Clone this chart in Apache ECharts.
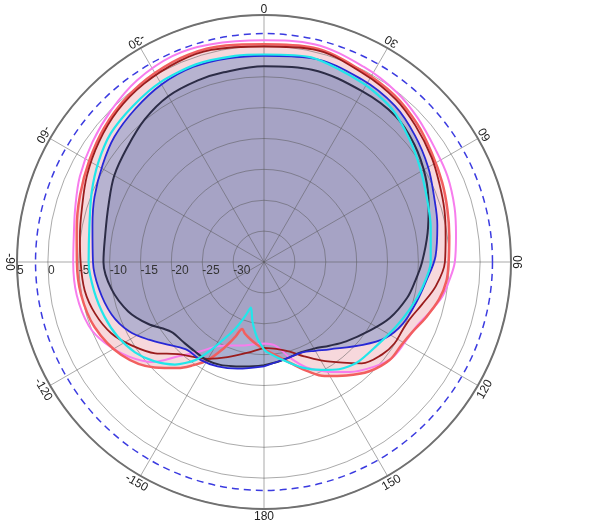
<!DOCTYPE html>
<html><head><meta charset="utf-8">
<script src="https://cdn.jsdelivr.net/npm/echarts@6/dist/echarts.min.js"></script>
<style>html,body{margin:0;padding:0;background:#fff}#c{width:600px;height:525px}</style>
</head><body><div id="c"></div>
<script>
// angle tick labels (degrees, clockwise from top)
const angleTickLabels = [0, 30, 60, 90, 120, 150, 180, -150, -120, -90, -60, -30];
// radial scale (dB)
const radiusMin = -35, radiusMax = 5, radiusStep = 5;
// reference circle (dB)
const refCircleDb = 2;

// curves: [angle (deg), gain (dB)]
const magenta = [[-180,-21.8],[-172,-21.5],[-165,-21.0],[-160,-20.6],[-151,-19.4],[-145,-17.4],[-138,-14.5],[-132,-10.8],[-125,-8.3],[-117,-6.1],[-110,-4.8],[-100,-4.2],[-90,-4.1],[-82,-3.9],[-74,-3.2],[-65,-2.1],[-55,-1.1],[-45,-0.1],[-35,0.9],[-24,1.5],[-14,1.3],[0,0.9],[13,1.2],[27,0.5],[38,-0.1],[47,-0.9],[57,-1.8],[65,-2.2],[74,-2.9],[82,-3.6],[90,-4.1],[96,-4.9],[101,-5.6],[107,-7.0],[113,-8.2],[119,-8.7],[127,-9.1],[134,-10.5],[142,-12.4],[150,-14.5],[158,-16.6],[165,-19.0],[172,-21.3],[180,-21.8]];
const salmon = [[-180,-20.9],[-175,-21.6],[-170,-22.3],[-165,-23.0],[-162,-23.6],[-159,-22.0],[-155,-19.6],[-150,-16.6],[-145,-14.5],[-141,-12.9],[-134,-10.4],[-123,-7.4],[-111,-5.6],[-100,-4.9],[-90,-4.7],[-80,-4.2],[-70,-3.3],[-60,-2.3],[-50,-1.2],[-40,-0.3],[-30,0.35],[-20,0.75],[-10,0.6],[0,0.25],[13,0.6],[27,-0.2],[38,-0.7],[48,-1.6],[57,-2.6],[66,-3.4],[74,-4.1],[82,-4.7],[90,-5.1],[96,-5.3],[102,-6.0],[109,-7.3],[115,-8.4],[121,-9.0],[128,-9.2],[136,-10.4],[144,-12.3],[152,-14.1],[158,-15.9],[165,-18.0],[173,-19.8],[180,-20.9]];
const maroon = [[-180,-21.1],[-170,-20.1],[-159,-18.5],[-150,-16.9],[-137,-14.6],[-130,-12.0],[-122,-9.6],[-115,-7.7],[-107,-6.4],[-99,-5.6],[-90,-5.3],[-82,-4.9],[-74,-4.3],[-64,-3.1],[-54,-1.95],[-44,-0.9],[-34,-0.2],[-23,0.3],[-14,0.4],[0,-0.1],[13,0.35],[28,-0.5],[39,-1.1],[48,-2.0],[58,-3.0],[66,-3.9],[74,-4.6],[82,-5.3],[90,-5.7],[98,-6.9],[105,-8.5],[111,-9.6],[116,-10.0],[122,-10.1],[128,-10.7],[136,-12.2],[142,-14.3],[150,-16.6],[157,-18.4],[164,-19.9],[172,-20.8],[180,-21.1]];
const blue = [[-180,-18.1],[-166,-17.2],[-156,-16.5],[-147,-16.1],[-139,-16.1],[-132,-14.8],[-124,-12.5],[-117,-10.4],[-109,-8.9],[-99,-7.9],[-90,-7.3],[-78,-6.6],[-69,-5.6],[-59,-4.5],[-50,-3.4],[-40,-2.6],[-30,-1.8],[-20,-1.4],[-10,-1.5],[0,-1.6],[13,-1.1],[28,-1.45],[40,-2.0],[50,-3.1],[60,-4.3],[69,-5.5],[78,-6.3],[88,-7.2],[97,-8.6],[105,-9.5],[114,-10.4],[122,-11.8],[130,-14.1],[143,-17.3],[150,-18.4],[157,-19.1],[168,-18.9],[180,-18.1]];
const cyan = [[-180,-20.8],[-175,-22.6],[-169,-25.2],[-164,-27.3],[-161,-25.8],[-158,-24.0],[-155,-22.3],[-152,-20.6],[-149,-18.4],[-145,-15.6],[-139,-13.0],[-132,-11.0],[-125,-9.5],[-117,-8.4],[-109,-7.7],[-100,-7.1],[-90,-6.6],[-78,-6.1],[-68,-4.9],[-59,-3.7],[-50,-2.6],[-40,-2.0],[-30,-1.4],[-19,-1.15],[-8,-1.3],[0,-1.4],[13,-1.0],[29,-1.9],[40,-2.7],[50,-4.2],[59,-5.5],[69,-6.7],[78,-7.4],[90,-8.0],[99,-9.0],[108,-10.2],[116,-11.2],[127,-12.3],[137,-12.8],[145,-13.8],[152,-15.2],[160,-16.8],[170,-19.0],[178,-20.4],[180,-20.8]];
const navy = [[-180,-18.3],[-170,-17.8],[-165,-17.5],[-157,-16.9],[-150,-16.6],[-142,-16.7],[-135,-16.6],[-127,-16.2],[-118,-13.7],[-110,-11.6],[-100,-9.9],[-90,-9.0],[-80,-8.9],[-70,-8.2],[-60,-7.0],[-50,-6.1],[-40,-4.9],[-30,-4.0],[-20,-3.7],[-12,-3.6],[0,-3.3],[14,-2.9],[30,-3.1],[42,-3.2],[52,-4.1],[62,-5.4],[71,-6.8],[80,-8.1],[90,-9.4],[97,-10.3],[104,-11.1],[114,-12.7],[123,-14.6],[134,-16.5],[142,-17.8],[150,-18.8],[158,-19.2],[165,-19.0],[172,-18.7],[180,-18.3]];

function toAxis(a) { return a < -90 ? a + 360 : a; }
function toData(arr) { return arr.map(p => [p[1], toAxis(p[0])]); }

const FONT = 'Liberation Sans, Arial, sans-serif';
const gridColor = 'rgba(85,85,85,0.5)';

function fillSeries(arr, color) {
  return { type: 'line', coordinateSystem: 'polar', data: toData(arr), smooth: 0.35,
    showSymbol: false, silent: true, z: 1, lineStyle: { opacity: 0 },
    areaStyle: { color: color, opacity: 1, origin: 'start' } };
}
function lineSeries(arr, color, width, smooth) {
  return { type: 'line', coordinateSystem: 'polar', data: toData(arr), smooth: smooth == null ? 0.35 : smooth,
    showSymbol: false, silent: true, z: 3, lineStyle: { color: color, width: width } };
}

const chart = echarts.init(document.getElementById('c'), null, { renderer: 'canvas' });
chart.setOption({
  animation: false,
  backgroundColor: '#ffffff',
  polar: { center: [264, 262], radius: 247 },
  angleAxis: {
    type: 'value', min: -90, max: 270, interval: 30, startAngle: 180, clockwise: true, z: 2,
    axisLine: { show: true, lineStyle: { color: '#707070', width: 2 } },
    axisTick: { show: false }, axisLabel: { show: false },
    splitLine: { show: true, lineStyle: { color: gridColor, width: 1 } }
  },
  radiusAxis: {
    type: 'value', min: radiusMin, max: radiusMax, interval: radiusStep, z: 2,
    axisLine: { show: false }, axisTick: { show: false },
    axisLabel: { show: true, margin: 3, align: 'left', color: '#333', fontSize: 12, fontFamily: FONT,
      formatter: v => (v === radiusMin ? '' : String(v)) },
    splitLine: { show: true, lineStyle: { color: gridColor, width: 1 } }
  },
  series: [
    fillSeries(salmon, 'rgba(230,125,140,0.3)'),
    fillSeries(blue, 'rgba(140,155,200,0.6)'),
    fillSeries(navy, 'rgba(110,110,160,0.22)'),
    lineSeries(magenta, '#f77ded', 2),
    lineSeries(salmon, '#f25f5f', 2.5),
    lineSeries(maroon, '#9a1c1c', 1.8),
    lineSeries(navy, '#2c2c46', 2),
    lineSeries(blue, '#2828d6', 1.8),
    lineSeries(cyan, '#22e6ea', 2.2, 0.25),
    {
      type: 'custom', coordinateSystem: 'polar', z: 3, silent: true,
      data: [[refCircleDb, 0]],
      renderItem: function (params, api) {
        const p = api.coord([api.value(0), api.value(1)]);
        const c = api.coord([radiusMin, api.value(1)]);
        return { type: 'circle', shape: { cx: c[0], cy: c[1], r: Math.hypot(p[0] - c[0], p[1] - c[1]) },
          style: { fill: 'none', stroke: '#3b3be0', lineWidth: 1.5, lineDash: [7, 5] } };
      }
    },
    {
      type: 'custom', coordinateSystem: 'polar', z: 4, silent: true,
      data: angleTickLabels.map(a => [radiusMax, toAxis(a), a]),
      renderItem: function (params, api) {
        const a = api.value(2);
        const p = api.coord([api.value(0), api.value(1)]);
        const c = api.coord([radiusMin, api.value(1)]);
        const dx = p[0] - c[0], dy = p[1] - c[1], L = Math.hypot(dx, dy);
        const off = 8;
        return { type: 'text', x: p[0] + dx / L * off, y: p[1] + dy / L * off,
          rotation: (180 - a) * Math.PI / 180,
          style: { text: String(a), fill: '#222', font: '12px ' + FONT, align: 'center', verticalAlign: 'middle' } };
      }
    }
  ]
});
</script></body></html>
